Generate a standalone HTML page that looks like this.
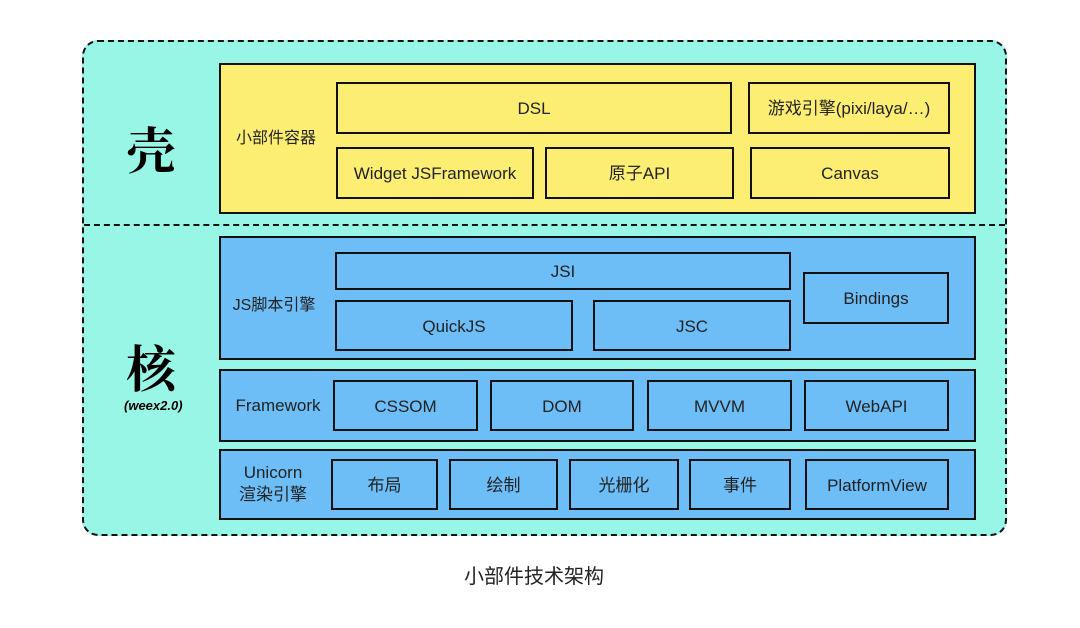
<!DOCTYPE html>
<html><head><meta charset="utf-8"><style>
body{margin:0;width:1080px;height:628px;background:#fff;position:relative;overflow:hidden;font-family:"Liberation Sans","Noto Sans CJK SC",sans-serif;}
.a{position:absolute;box-sizing:border-box;}
.b{position:absolute;box-sizing:border-box;border:2px solid #111;display:flex;align-items:center;justify-content:center;font-size:17px;color:#222;line-height:20px;}
.b span{display:block;line-height:20px;height:20px;position:relative;top:1px;}
.y{background:#fcee72;}
.u{background:#6dbdf6;}
.l{position:absolute;font-size:16px;color:#222;text-align:center;}
</style></head><body>
<div class="a" style="left:82px;top:40px;width:925px;height:496px;background:#98f6e6;border:2.5px dashed #111;border-radius:16px;"></div>
<div class="a" style="left:84px;top:224px;width:921px;height:0;border-top:2.5px dashed #111;"></div>
<div class="a" style="left:126px;top:112px;font-size:50px;font-weight:bold;font-family:'Noto Serif CJK SC',serif;">壳</div>
<div class="a" style="left:126px;top:330px;font-size:50px;font-weight:bold;font-family:'Noto Serif CJK SC',serif;">核</div>
<div class="a" style="left:124px;top:398px;font-size:13px;font-style:italic;font-weight:bold;">(weex2.0)</div>

<div class="b y" style="left:219px;top:63px;width:757px;height:151px;"></div>
<div class="l" style="left:226px;top:129px;width:100px;line-height:20px;">小部件容器</div>
<div class="b y" style="left:336px;top:82px;width:396px;height:52px;"><span>DSL</span></div>
<div class="b y" style="left:748px;top:82px;width:202px;height:52px;"><span>游戏引擎(pixi/laya/…)</span></div>
<div class="b y" style="left:336px;top:147px;width:198px;height:52px;"><span>Widget JSFramework</span></div>
<div class="b y" style="left:545px;top:147px;width:189px;height:52px;"><span>原子API</span></div>
<div class="b y" style="left:750px;top:147px;width:200px;height:52px;"><span>Canvas</span></div>

<div class="b u" style="left:219px;top:236px;width:757px;height:124px;"></div>
<div class="l" style="left:224px;top:296px;width:100px;line-height:20px;">JS脚本引擎</div>
<div class="b u" style="left:335px;top:252px;width:456px;height:38px;"><span>JSI</span></div>
<div class="b u" style="left:335px;top:300px;width:238px;height:51px;"><span>QuickJS</span></div>
<div class="b u" style="left:593px;top:300px;width:198px;height:51px;"><span>JSC</span></div>
<div class="b u" style="left:803px;top:272px;width:146px;height:52px;"><span>Bindings</span></div>

<div class="b u" style="left:219px;top:369px;width:757px;height:73px;"></div>
<div class="l" style="left:226px;top:396px;width:104px;font-size:17px;">Framework</div>
<div class="b u" style="left:333px;top:380px;width:145px;height:51px;"><span>CSSOM</span></div>
<div class="b u" style="left:490px;top:380px;width:144px;height:51px;"><span>DOM</span></div>
<div class="b u" style="left:647px;top:380px;width:145px;height:51px;"><span>MVVM</span></div>
<div class="b u" style="left:804px;top:380px;width:145px;height:51px;"><span>WebAPI</span></div>

<div class="b u" style="left:219px;top:449px;width:757px;height:71px;"></div>
<div class="l" style="left:223px;top:462px;width:100px;line-height:22px;font-size:17px;">Unicorn<br>渲染引擎</div>
<div class="b u" style="left:331px;top:459px;width:107px;height:51px;"><span>布局</span></div>
<div class="b u" style="left:449px;top:459px;width:109px;height:51px;"><span>绘制</span></div>
<div class="b u" style="left:569px;top:459px;width:110px;height:51px;"><span>光栅化</span></div>
<div class="b u" style="left:689px;top:459px;width:102px;height:51px;"><span>事件</span></div>
<div class="b u" style="left:805px;top:459px;width:144px;height:51px;"><span>PlatformView</span></div>

<div class="a" style="left:0;width:1080px;top:564px;text-align:center;font-size:20px;color:#222;line-height:26px;"><span style="position:relative;left:-6px;">小部件技术架构</span></div>
</body></html>
